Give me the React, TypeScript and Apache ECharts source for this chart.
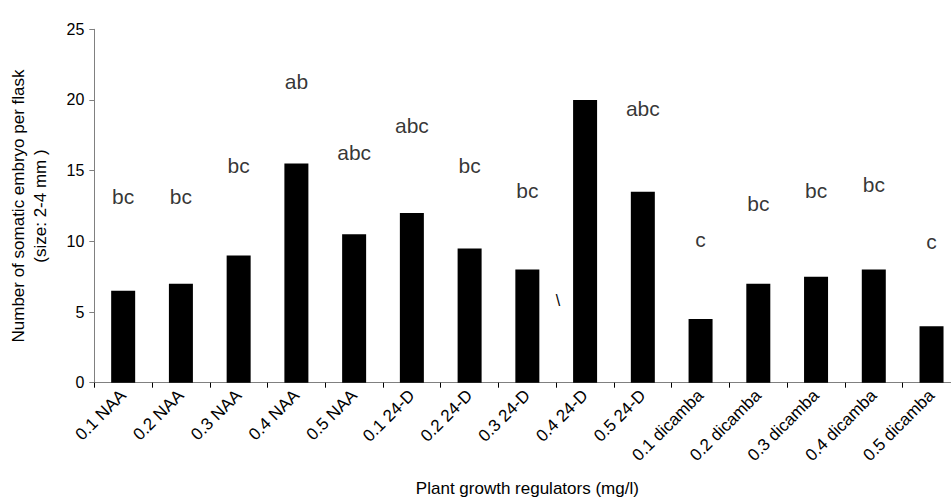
import React, { useEffect, useRef } from "react";
import * as echarts from "echarts";

const categories = [
  "0.1 NAA", "0.2 NAA", "0.3 NAA", "0.4 NAA", "0.5 NAA",
  "0.1 24-D", "0.2 24-D", "0.3 24-D", "0.4 24-D", "0.5 24-D",
  "0.1 dicamba", "0.2 dicamba", "0.3 dicamba", "0.4 dicamba", "0.5 dicamba",
];
const embryos = [6.5, 7, 9, 15.5, 10.5, 12, 9.5, 8, 20, 13.5, 4.5, 7, 7.5, 8, 4];
const letters = ["bc", "bc", "bc", "ab", "abc", "abc", "bc", "bc", "a", "abc", "c", "bc", "bc", "bc", "c"];
const letterHeights = [13.15, 13.15, 15.4, 21.3, 16.3, 18.2, 15.4, 13.6, 25.8, 19.4, 10.1, 12.7, 13.6, 14.0, 10.0];
const yTicks = { min: 0, max: 25, interval: 5 };

const FONT = "'Liberation Sans', Arial, sans-serif";

export default function App() {
  const ref = useRef<HTMLDivElement>(null);
  useEffect(() => {
    if (!ref.current) return;
    const chart = echarts.init(ref.current, null, { renderer: "svg" });
    chart.setOption({
      animation: false,
      backgroundColor: "#ffffff",
      textStyle: { fontFamily: FONT },
      grid: {
        left: 94.3,
        right: -9.4,
        top: 29.3,
        bottom: 118.3,
        containLabel: false,
        outerBoundsMode: "none",
      },
      xAxis: {
        type: "category",
        data: categories,
        name: "Plant growth regulators (mg/l)",
        nameLocation: "middle",
        nameGap: 97,
        nameTextStyle: { color: "#000", fontSize: 17, fontFamily: FONT },
        axisLine: { lineStyle: { color: "#808080", width: 1 } },
        axisTick: { show: true, inside: false, length: 5, lineStyle: { color: "#000" } },
        axisLabel: {
          rotate: 45,
          color: "#000",
          fontSize: 17,
          fontFamily: FONT,
          margin: 10,
          interval: 0,
        },
        splitLine: { show: false },
      },
      yAxis: {
        type: "value",
        min: yTicks.min,
        max: yTicks.max,
        interval: yTicks.interval,
        name: "Number of somatic embryo per flask\n(size: 2-4 mm )",
        nameLocation: "middle",
        nameGap: 43,
        nameRotate: 90,
        nameTextStyle: { color: "#000", fontSize: 17, fontFamily: FONT, lineHeight: 22 },
        axisLine: { show: true, lineStyle: { color: "#808080", width: 1 } },
        axisTick: { show: true, inside: false, length: 5, lineStyle: { color: "#808080" } },
        axisLabel: { color: "#000", fontSize: 16, fontFamily: FONT, margin: 10 },
        splitLine: { show: false },
      },
      series: [
        {
          type: "bar",
          data: embryos,
          barWidth: 24,
          itemStyle: { color: "#000000" },
        },
        {
          type: "scatter",
          data: letterHeights,
          symbolSize: 0,
          label: {
            show: true,
            position: "inside",
            formatter: (p: any) => letters[p.dataIndex],
            color: "#000",
            fontSize: 21,
            fontFamily: FONT,
          },
        },
      ],
      graphic: [
        {
          type: "text",
          x: 558,
          y: 300,
          style: {
            text: "\\",
            fill: "#000",
            font: "16px 'Liberation Sans', Arial, sans-serif",
            textAlign: "center",
            textVerticalAlign: "middle",
          },
        },
      ],
    });
    return () => chart.dispose();
  }, []);
  return (
    <div
      ref={ref}
      style={{ position: "fixed", left: 0, top: 0, width: 951, height: 501 }}
    />
  );
}
